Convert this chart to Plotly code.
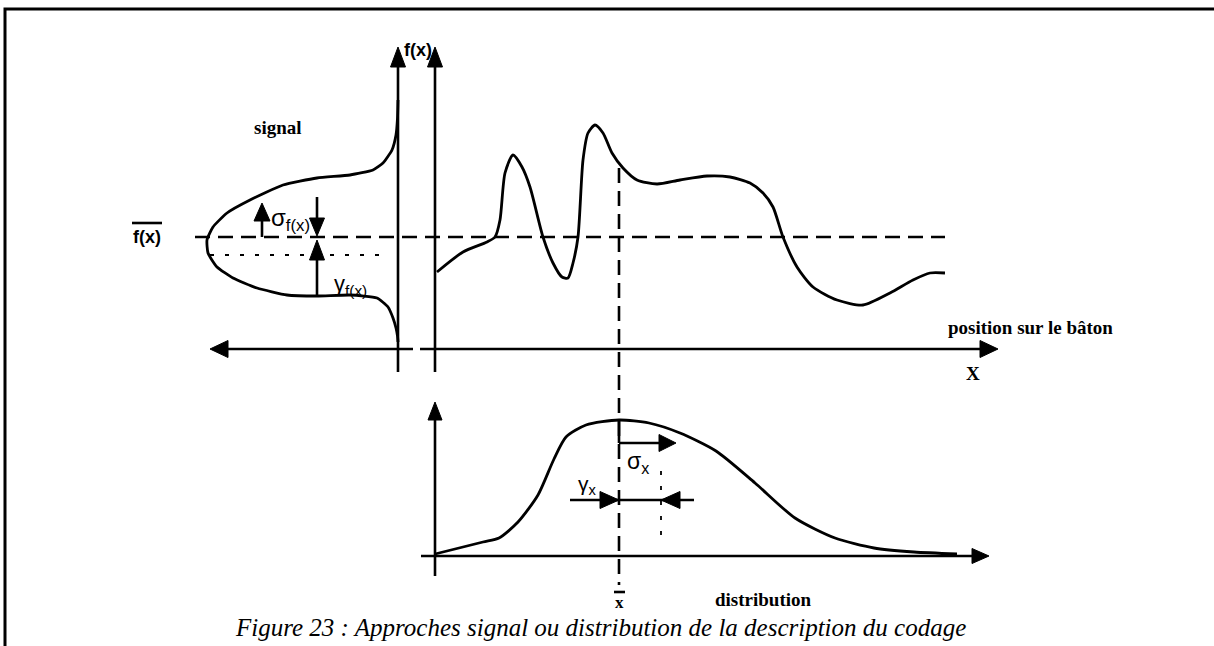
import plotly.graph_objects as go

W, H = 1214, 646

# ---------------- data (pixel-space diagram coordinates) ----------------
signal_x = [437, 463, 487, 495, 500, 505, 513, 522, 530, 543, 553, 562, 568, 573, 578, 583, 588, 595,
            603, 612, 623, 637, 657, 680, 707, 730, 750, 763, 773, 783, 797, 813, 837, 863, 890, 913, 930, 945]
signal_y = [272, 252, 242, 237, 220, 173, 155, 167, 187, 237, 263, 277, 278, 263, 237, 160, 133, 125,
            133, 153, 168, 180, 184, 180, 176, 177, 183, 193, 207, 237, 267, 287, 300, 305, 293, 280, 273, 273]

side_x = [398, 397.5, 396, 392, 383, 373, 350, 317, 283, 250, 227, 213, 207, 208, 217, 233, 257, 287, 317,
          350, 377, 388, 393, 396, 397.5, 398]
side_y = [100, 118, 135, 150, 163, 170, 175, 178, 185, 200, 213, 227, 240, 253, 267, 278, 288, 295, 296,
          295, 298, 307, 318, 328, 336, 342]

dist_x = [435, 483, 499, 518, 538, 554, 566, 586, 619, 649, 680, 716, 755, 795, 835, 874, 914, 957]
dist_y = [554, 542, 538, 522, 495, 459, 437, 425, 420, 423, 433, 451, 483, 518, 538, 548, 552, 554]

# solid segments: (x0, y0, x1, y1)
segments = [
    (398, 62, 398, 372), (435, 62, 435, 372),      # vertical axes
    (222, 349, 413, 349), (420, 349, 985, 349),    # horizontal axes
    (262, 237, 262, 215),                          # sigma f(x)
    (317, 197, 317, 226),                          # sigma f(x) down
    (317, 296, 317, 252),                          # gamma f(x)
    (435, 412, 435, 576), (421, 556, 978, 556),    # lower axes
    (619, 420, 619, 443), (619, 443, 663, 443),    # sigma x
    (570, 500, 694, 500),                          # gamma x
    (132, 223, 162, 223),                          # overline f(x)
    (614, 592, 625, 592),                          # overline x
]
frame_x = [5, 5, 1214]
frame_y = [646, 9, 9]

dashed = [(195, 237, 945, 237), (619, 168, 619, 585)]
dotted = [(210, 255, 387, 255), (661, 471, 661, 546)]

# arrowheads: tip x, tip y, direction, length, width
heads = [
    (398, 47, 'up', 20, 15), (435, 47, 'up', 20, 15),
    (210, 349, 'left', 18, 17), (998, 349, 'right', 18, 17),
    (262, 203, 'up', 18, 16), (317, 236, 'down', 18, 15), (317, 240, 'up', 20, 15),
    (435, 402, 'up', 18, 14), (989, 556, 'right', 17, 15),
    (676, 443, 'right', 17, 17), (619, 500, 'right', 19, 17), (661, 500, 'left', 19, 17),
]

labels = [
    # text, x, y, xanchor, font family, size, weight
    ("f(x)", 418, 50, 'center', "Liberation Sans", 18, 'bold'),
    ("f(x)", 147, 237, 'center', "Liberation Sans", 18, 'bold'),
    ("σ<sub>f(x)</sub>", 269, 219, 'left', "Liberation Sans", 24, 'normal'),
    ("γ<sub>f(x)</sub>", 332, 285, 'left', "Liberation Sans", 22, 'normal'),
    ("σ<sub>x</sub>", 625, 462, 'left', "Liberation Sans", 23, 'normal'),
    ("γ<sub>x</sub>", 576, 485, 'left', "Liberation Sans", 21, 'normal'),
    ("signal", 278, 127, 'center', "Liberation Serif", 19, 'bold'),
    ("position sur le bâton", 1030, 327, 'center', "Liberation Serif", 19, 'bold'),
    ("X", 973, 373, 'center', "Liberation Serif", 19, 'bold'),
    ("distribution", 763, 599, 'center', "Liberation Serif", 19, 'bold'),
    ("x", 619, 602, 'center', "Liberation Serif", 17, 'bold'),
]
caption = "Figure 23 : Approches signal ou distribution de la description du codage"

# ---------------- build figure ----------------
fig = go.Figure()
BLACK = "#000000"

def seg_xy(segs):
    xs, ys = [], []
    for x0, y0, x1, y1 in segs:
        xs += [x0, x1, None]
        ys += [y0, y1, None]
    return xs, ys

fig.add_trace(go.Scatter(x=frame_x, y=frame_y, mode="lines",
                         line=dict(color=BLACK, width=3), hoverinfo="skip"))

sx, sy = seg_xy(segments)
fig.add_trace(go.Scatter(x=sx, y=sy, mode="lines", line=dict(color=BLACK, width=2.6), hoverinfo="skip"))

dx, dy = seg_xy(dashed)
fig.add_trace(go.Scatter(x=dx, y=dy, mode="lines",
                         line=dict(color=BLACK, width=2.6, dash="15px,8px"), hoverinfo="skip"))
ox, oy = seg_xy(dotted)
fig.add_trace(go.Scatter(x=ox, y=oy, mode="lines",
                         line=dict(color=BLACK, width=1.8, dash="4px,11px"), hoverinfo="skip"))

for cx, cy, sm in [(signal_x, signal_y, 0.7), (side_x, side_y, 0.5), (dist_x, dist_y, 0.7)]:
    fig.add_trace(go.Scatter(x=cx, y=cy, mode="lines",
                             line=dict(color=BLACK, width=2.8, shape="spline", smoothing=sm),
                             hoverinfo="skip"))

def tri(tx, ty, d, L, Wd):
    h = Wd / 2
    if d == 'up':
        return [tx, tx - h, tx + h, tx], [ty, ty + L, ty + L, ty]
    if d == 'down':
        return [tx, tx - h, tx + h, tx], [ty, ty - L, ty - L, ty]
    if d == 'left':
        return [tx, tx + L, tx + L, tx], [ty, ty - h, ty + h, ty]
    return [tx, tx - L, tx - L, tx], [ty, ty - h, ty + h, ty]

hx, hy = [], []
for tx, ty, d, L, Wd in heads:
    a, b = tri(tx, ty, d, L, Wd)
    hx += a + [None]
    hy += b + [None]
fig.add_trace(go.Scatter(x=hx, y=hy, mode="lines", fill="toself", fillcolor=BLACK,
                         line=dict(color=BLACK, width=1), hoverinfo="skip"))

for text, x, y, xa, fam, size, wt in labels:
    fig.add_annotation(x=x, y=y, text=text, showarrow=False, xanchor=xa, yanchor="middle",
                       font=dict(family=fam, size=size, color=BLACK, weight=wt))

fig.add_annotation(x=600, y=627, text=caption, showarrow=False, xanchor="center", yanchor="middle",
                   font=dict(family="Liberation Serif", size=25, color=BLACK, style="italic"))

fig.update_layout(
    width=W, height=H, margin=dict(l=0, r=0, t=0, b=0),
    paper_bgcolor="white", plot_bgcolor="white", showlegend=False,
    xaxis=dict(range=[0, W], visible=False, fixedrange=True),
    yaxis=dict(range=[H, 0], visible=False, fixedrange=True),
)

fig.write_html("out.html", config={"displayModeBar": False},
               post_script="document.body.style.margin='0px';document.body.style.overflow='hidden';")
